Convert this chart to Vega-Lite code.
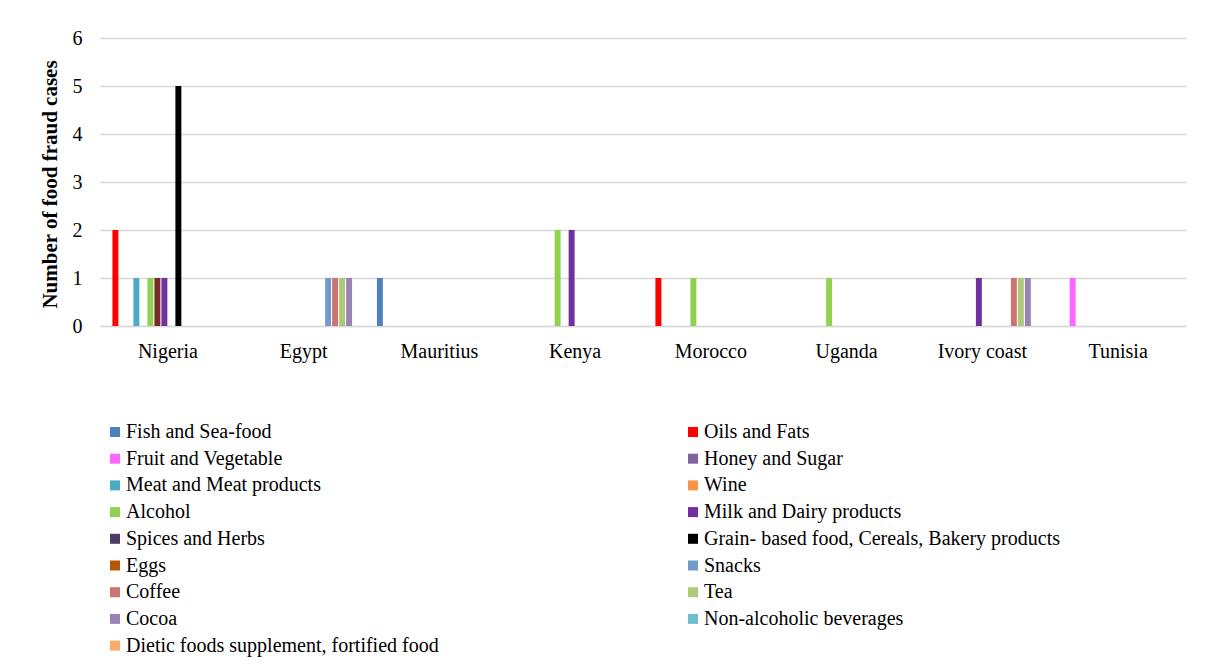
{
  "$schema": "https://vega.github.io/schema/vega-lite/v6.json",
  "autosize": "none",
  "width": 1086,
  "height": 288,
  "padding": {"left": 100, "top": 38, "right": 27, "bottom": 345},
  "background": "white",
  "config": {"view": {"stroke": null}},
  "data": {
    "values": [
      {"country": "Nigeria", "category": "Oils and Fats", "cases": 2},
      {"country": "Nigeria", "category": "Meat and Meat products", "cases": 1},
      {"country": "Nigeria", "category": "Alcohol", "cases": 1},
      {"country": "Nigeria", "category": "Other", "cases": 1},
      {"country": "Nigeria", "category": "Milk and Dairy products", "cases": 1},
      {"country": "Nigeria", "category": "Grain- based food, Cereals, Bakery products", "cases": 5},
      {"country": "Egypt", "category": "Snacks", "cases": 1},
      {"country": "Egypt", "category": "Coffee", "cases": 1},
      {"country": "Egypt", "category": "Tea", "cases": 1},
      {"country": "Egypt", "category": "Cocoa", "cases": 1},
      {"country": "Mauritius", "category": "Fish and Sea-food", "cases": 1},
      {"country": "Kenya", "category": "Alcohol", "cases": 2},
      {"country": "Kenya", "category": "Milk and Dairy products", "cases": 2},
      {"country": "Morocco", "category": "Oils and Fats", "cases": 1},
      {"country": "Morocco", "category": "Alcohol", "cases": 1},
      {"country": "Uganda", "category": "Alcohol", "cases": 1},
      {"country": "Ivory coast", "category": "Milk and Dairy products", "cases": 1},
      {"country": "Ivory coast", "category": "Coffee", "cases": 1},
      {"country": "Ivory coast", "category": "Tea", "cases": 1},
      {"country": "Ivory coast", "category": "Cocoa", "cases": 1},
      {"country": "Tunisia", "category": "Fruit and Vegetable", "cases": 1}
    ]
  },
  "mark": {"type": "bar"},
  "encoding": {
    "x": {
      "field": "country",
      "type": "nominal",
      "sort": null,
      "scale": {
        "domain": ["Nigeria", "Egypt", "Mauritius", "Kenya", "Morocco", "Uganda", "Ivory coast", "Tunisia"],
        "paddingInner": 0.08,
        "paddingOuter": 0.04
      },
      "axis": {
        "title": null,
        "labelAngle": 0,
        "labelFont": "Liberation Serif",
        "labelFontSize": 20,
        "labelColor": "black",
        "labelPadding": 15,
        "ticks": false,
        "domain": true,
        "domainColor": "#d9d9d9",
        "domainWidth": 1.3
      }
    },
    "xOffset": {
      "field": "category",
      "type": "nominal",
      "scale": {
        "domain": ["Fish and Sea-food", "Oils and Fats", "Fruit and Vegetable", "Honey and Sugar", "Meat and Meat products", "Wine", "Alcohol", "Other", "Milk and Dairy products", "Spices and Herbs", "Grain- based food, Cereals, Bakery products", "Eggs", "Snacks", "Coffee", "Tea", "Cocoa", "Non-alcoholic beverages", "Dietic foods supplement, fortified food"],
        "paddingInner": 0.15,
        "paddingOuter": 0
      }
    },
    "y": {
      "field": "cases",
      "type": "quantitative",
      "scale": {"domain": [0, 6], "nice": false},
      "axis": {
        "title": "Number of food fraud cases",
        "titleFont": "Liberation Serif",
        "titleFontSize": 21,
        "titleFontWeight": "bold",
        "titleColor": "black",
        "titleX": -40,
        "titleY": 146,
        "values": [0, 1, 2, 3, 4, 5, 6],
        "labelFont": "Liberation Serif",
        "labelFontSize": 20,
        "labelColor": "black",
        "labelPadding": 18,
        "ticks": false,
        "domain": false,
        "grid": true,
        "gridColor": "#d9d9d9",
        "gridWidth": 1.3
      }
    },
    "color": {
      "field": "category",
      "type": "nominal",
      "scale": {
        "domain": ["Fish and Sea-food", "Oils and Fats", "Fruit and Vegetable", "Honey and Sugar", "Meat and Meat products", "Wine", "Alcohol", "Other", "Milk and Dairy products", "Spices and Herbs", "Grain- based food, Cereals, Bakery products", "Eggs", "Snacks", "Coffee", "Tea", "Cocoa", "Non-alcoholic beverages", "Dietic foods supplement, fortified food"],
        "range": ["#4f81bd", "#ff0000", "#ff66ff", "#8064a2", "#4bacc6", "#f79646", "#92d050", "#772c2a", "#7030a0", "#4d3b62", "#000000", "#b65708", "#729aca", "#cd7371", "#afc97a", "#9983b5", "#6fbdd1", "#f9ab6b"]
      },
      "legend": {
        "title": null,
        "values": ["Fish and Sea-food", "Fruit and Vegetable", "Meat and Meat products", "Alcohol", "Spices and Herbs", "Eggs", "Coffee", "Cocoa", "Dietic foods supplement, fortified food", "Oils and Fats", "Honey and Sugar", "Wine", "Milk and Dairy products", "Grain- based food, Cereals, Bakery products", "Snacks", "Tea", "Non-alcoholic beverages"],
        "orient": "none",
        "legendX": 5,
        "legendY": 384,
        "columns": 2,
        "columnPadding": 244,
        "rowPadding": 6.7,
        "symbolType": "square",
        "symbolSize": 100,
        "symbolStrokeWidth": 0,
        "labelFont": "Liberation Serif",
        "labelFontSize": 20,
        "labelColor": "black",
        "labelOffset": 1,
        "labelLimit": 0
      }
    }
  }
}
